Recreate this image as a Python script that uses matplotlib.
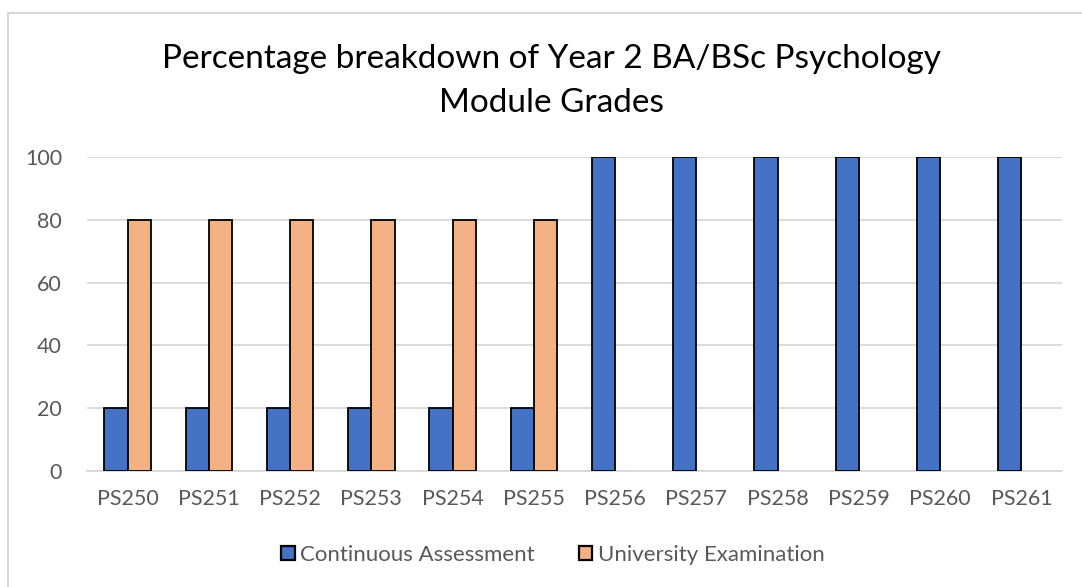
import matplotlib.pyplot as plt
import numpy as np
from matplotlib.patches import Rectangle

modules = ["PS250", "PS251", "PS252", "PS253", "PS254", "PS255",
           "PS256", "PS257", "PS258", "PS259", "PS260", "PS261"]
continuous = [20, 20, 20, 20, 20, 20, 100, 100, 100, 100, 100, 100]
exam = [80, 80, 80, 80, 80, 80, 0, 0, 0, 0, 0, 0]

BLUE = "#4472C4"
ORANGE = "#F4B183"
GREY_TEXT = "#595959"

plt.rcParams["font.family"] = ["Lato", "DejaVu Sans"]

fig = plt.figure(figsize=(10.82, 5.87), dpi=100)
# chart area border (only top and left visible in the reference)
fig.patches.append(Rectangle((8 / 1082, -0.1), 1.2, 1.1 - 13 / 587,
                             transform=fig.transFigure, fill=False,
                             edgecolor="#D9D9D9", linewidth=1.5))

ax = fig.add_axes([87 / 1082, (587 - 471) / 587, 975 / 1082, (471 - 157) / 587])

x = np.arange(len(modules))
w = 0.285


def edges(vals):
    # Excel draws no outline for zero-height bars
    return ["black" if v else "none" for v in vals]


ax.bar(x - w / 2, continuous, w, color=BLUE, edgecolor=edges(continuous),
       linewidth=1.3, label="Continuous Assessment", zorder=3)
ax.bar(x + w / 2, exam, w, color=ORANGE, edgecolor=edges(exam),
       linewidth=1.3, label="University Examination", zorder=3)

ax.set_xlim(-0.5, len(modules) - 0.5)
ax.set_ylim(0, 100)
ax.set_yticks(range(0, 101, 20))
ax.set_xticks(x)
ax.set_xticklabels(modules)
ax.tick_params(axis="both", length=0, labelsize=15.5, colors=GREY_TEXT)
ax.tick_params(axis="x", pad=13)
ax.tick_params(axis="y", pad=18)
ax.grid(axis="y", color="#D9D9D9", linewidth=1.3, zorder=0)
for s in ["top", "right", "left"]:
    ax.spines[s].set_visible(False)
ax.spines["bottom"].set_color("#D9D9D9")
ax.spines["bottom"].set_linewidth(1.3)

fig.text(551 / 1082, 1 - 81 / 587,
         "Percentage breakdown of Year 2 BA/BSc Psychology\nModule Grades",
         ha="center", va="center", fontsize=24, color="black", linespacing=1.55)

leg = fig.legend(loc="center", bbox_to_anchor=(553 / 1082, 1 - 555 / 587), ncol=2,
                 frameon=False, fontsize=16, labelcolor=GREY_TEXT,
                 handlelength=0.6, handleheight=0.6, handletextpad=0.25,
                 columnspacing=2.0)
for h in leg.legend_handles:
    h.set_edgecolor("black")
    h.set_linewidth(1.6)

fig.savefig("out.png", dpi=100)
